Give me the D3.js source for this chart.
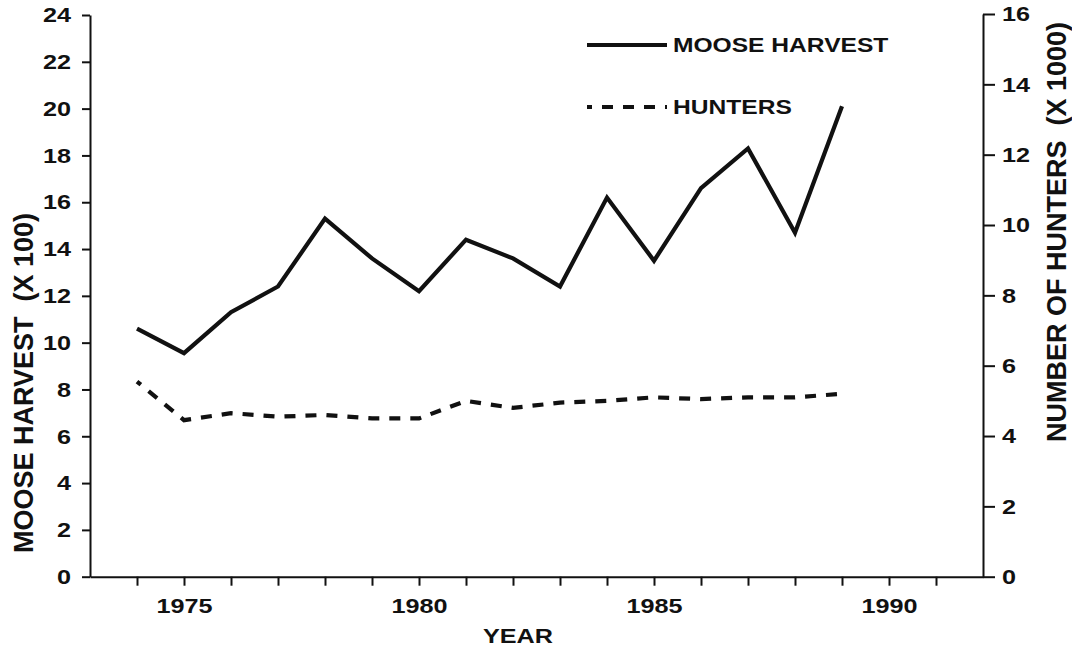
<!DOCTYPE html>
<html>
<head>
<meta charset="utf-8">
<script src="https://cdn.jsdelivr.net/npm/d3@7"></script>
<style>
  body { margin: 0; background: #fff; }
  svg text { font-family: "Liberation Sans", Arial, sans-serif; font-weight: bold; fill: #111; }
</style>
</head>
<body>
<svg id="chart" width="1072" height="649"></svg>
<script>
// data
const years = [1974, 1975, 1976, 1977, 1978, 1979, 1980, 1981, 1982, 1983, 1984, 1985, 1986, 1987, 1988, 1989];
const mooseHarvest = [10.6, 9.55, 11.3, 12.4, 15.3, 13.6, 12.2, 14.4, 13.6, 12.4, 16.2, 13.5, 16.6, 18.3, 14.7, 20.1];
const hunters = [5.55, 4.45, 4.65, 4.55, 4.6, 4.5, 4.5, 5.0, 4.8, 4.95, 5.0, 5.1, 5.05, 5.1, 5.1, 5.2];
const yearTicks = [1974, 1975, 1976, 1977, 1978, 1979, 1980, 1981, 1982, 1983, 1984, 1985, 1986, 1987, 1988, 1989, 1990, 1991];
const leftTicks = [0, 2, 4, 6, 8, 10, 12, 14, 16, 18, 20, 22, 24];
const rightTicks = [0, 2, 4, 6, 8, 10, 12, 14, 16];

const svg = d3.select("#chart");
const ink = "#111";
const stretchK = 1.2; // the scanned lettering is wider than Arial

// scales
const x = d3.scaleLinear().domain([1973, 1992]).range([90, 983]);
const yL = d3.scaleLinear().domain([0, 24]).range([576.7, 15]);
const yR = d3.scaleLinear().domain([0, 16]).range([576.7, 14]);

// widen horizontal text around its own anchor x
function stretch(sel) {
  sel.each(function () {
    const t = d3.select(this);
    const ax = +(t.attr("x") || 0);
    t.attr("transform", "translate(" + (ax * (1 - stretchK)) + ",0) scale(" + stretchK + ",1)");
  });
}

function styleAxis(g) {
  g.attr("font-family", null);
  g.selectAll("path, line").attr("stroke", ink).attr("stroke-width", 2);
  g.selectAll("text")
    .attr("font-size", 21)
    .attr("font-weight", "bold")
    .attr("fill", ink);
}

// left axis
const gL = svg.append("g")
  .attr("transform", "translate(" + x.range()[0] + ",0)")
  .call(d3.axisLeft(yL).tickValues(leftTicks).tickSize(8).tickSizeOuter(0).tickPadding(11));
styleAxis(gL);
stretch(gL.selectAll("text"));

// right axis
const gR = svg.append("g")
  .attr("transform", "translate(" + x.range()[1] + ",0)")
  .call(d3.axisRight(yR).tickValues(rightTicks).tickSize(12).tickSizeOuter(0).tickPadding(7));
styleAxis(gR);
stretch(gR.selectAll("text"));

// bottom axis
const gB = svg.append("g")
  .attr("transform", "translate(0," + yL(0) + ")")
  .call(d3.axisBottom(x).tickValues(yearTicks).tickSize(9).tickSizeOuter(0).tickPadding(12)
    .tickFormat(d => d % 5 === 0 ? d : ""));
styleAxis(gB);
stretch(gB.selectAll("text"));

// lines
const lineL = d3.line().x((d, i) => x(years[i])).y(d => yL(d));
const lineR = d3.line().x((d, i) => x(years[i])).y(d => yR(d));

svg.append("path")
  .datum(mooseHarvest)
  .attr("d", lineL)
  .attr("fill", "none")
  .attr("stroke", ink)
  .attr("stroke-width", 4.2)
  .attr("stroke-linejoin", "miter");

svg.append("path")
  .datum(hunters)
  .attr("d", lineR)
  .attr("fill", "none")
  .attr("stroke", ink)
  .attr("stroke-width", 4.2)
  .attr("stroke-dasharray", "11,10")
  .attr("stroke-dashoffset", 6);

// axis titles
svg.append("text")
  .attr("transform", "translate(33,383) rotate(-90)")
  .attr("text-anchor", "middle")
  .attr("font-size", 27)
  .style("white-space", "pre")
  .text("MOOSE HARVEST  (X 100)");

svg.append("text")
  .attr("transform", "translate(1066,232) rotate(-90)")
  .attr("text-anchor", "middle")
  .attr("font-size", 27)
  .style("white-space", "pre")
  .text("NUMBER OF HUNTERS  (X 1000)");

const xTitle = svg.append("text")
  .attr("x", 518)
  .attr("y", 643)
  .attr("text-anchor", "middle")
  .attr("font-size", 21)
  .text("YEAR");
stretch(xTitle);

// legend
const legend = [
  { label: "MOOSE HARVEST", y: 45, dash: null },
  { label: "HUNTERS", y: 107, dash: "11,10" }
];
legend.forEach(d => {
  svg.append("line")
    .attr("x1", 587).attr("x2", 667)
    .attr("y1", d.y).attr("y2", d.y)
    .attr("stroke", ink)
    .attr("stroke-width", 4.2)
    .attr("stroke-dasharray", d.dash)
    .attr("stroke-dashoffset", d.dash ? 6 : null);
  const t = svg.append("text")
    .attr("x", 673)
    .attr("y", d.y + 7.5)
    .attr("font-size", 20.5)
    .text(d.label);
  stretch(t);
});
</script>
</body>
</html>
